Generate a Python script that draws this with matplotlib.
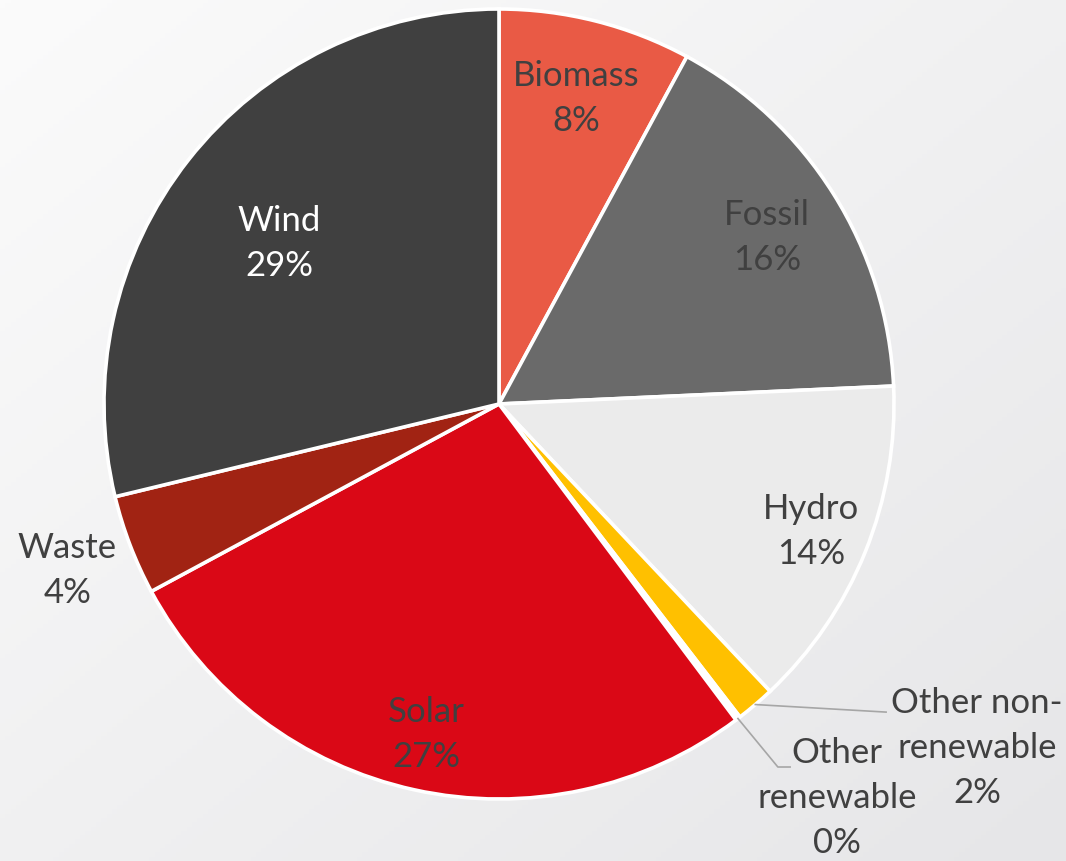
import numpy as np
import matplotlib
matplotlib.use('Agg')
import matplotlib.pyplot as plt

# datos del grafico
sources = ['Biomass', 'Fossil', 'Hydro', 'Other non-\nrenewable', 'Other\nrenewable',
           'Solar', 'Waste', 'Wind']
shares = [7.9, 16.4, 13.7, 1.6, 0.2, 27.4, 4.1, 28.8]
pct_labels = ['8%', '16%', '14%', '2%', '0%', '27%', '4%', '29%']
colors = ['#E95A45', '#6A6A6A', '#EBEBEB', '#FFC000', '#FFFFFF',
          '#DA0816', '#A12313', '#404040']
text_colors = ['#404040', '#404040', '#404040', '#404040', '#404040',
               '#404040', '#404040', '#FFFFFF']

plt.rcParams['font.family'] = ['Lato', 'DejaVu Sans']

W, H = 1066, 862
cx, cy, R = 499, 405, 395
fig = plt.figure(figsize=(W / 100, H / 100), dpi=100)

# fondo con degradado gris
bg = fig.add_axes([0, 0, 1, 1], zorder=0)
yy, xx = np.mgrid[0:1:200j, 0:1:200j]
grad = 0.5 * (xx + yy)
bg.imshow(grad, cmap=matplotlib.colors.LinearSegmentedColormap.from_list(
    'bg', ['#FBFBFB', '#E6E6E8']), aspect='auto', extent=[0, 1, 0, 1])
bg.axis('off')

ax = fig.add_axes([0, 0, 1, 1], zorder=1)
ax.patch.set_alpha(0)
wedges, _ = ax.pie(shares, colors=colors, startangle=90, counterclock=False,
                   radius=1, wedgeprops=dict(edgecolor='white', linewidth=2.6))
ax.set_xlim(-cx / R, (W - cx) / R)
ax.set_ylim(-(H - cy) / R, cy / R)
ax.axis('off')

# etiquetas dentro / fuera del circulo
label_r = [0.80, 0.80, 0.853, None, None, 0.855, 1.17, 0.69]
outside_pos = {3: (1.21, -0.868), 4: (0.856, -0.995)}
for i, w in enumerate(wedges):
    mid = np.deg2rad((w.theta1 + w.theta2) / 2)
    if i == 7:
        mid += np.deg2rad(2)  # Wind un poco corrido
    txt = sources[i] + '\n' + pct_labels[i]
    if label_r[i] is not None:
        x, y = label_r[i] * np.cos(mid), label_r[i] * np.sin(mid)
    else:
        x, y = outside_pos[i]
    ax.text(x, y, txt, ha='center', va='center', fontsize=25,
            color=text_colors[i], linespacing=1.5)

# lineas guia
for i, elbow in [(3, None), (4, (0.706, -0.919))]:
    w = wedges[i]
    mid = np.deg2rad((w.theta1 + w.theta2) / 2)
    x0, y0 = np.cos(mid), np.sin(mid)
    if elbow is None:
        xs, ys = [x0, 0.98], [y0, -0.78]
    else:
        xs, ys = [x0, elbow[0], 0.737], [y0, elbow[1], elbow[1]]
    ax.plot(xs, ys, color='#A6A6A6', linewidth=1.2)

fig.savefig('out.png', dpi=100)
